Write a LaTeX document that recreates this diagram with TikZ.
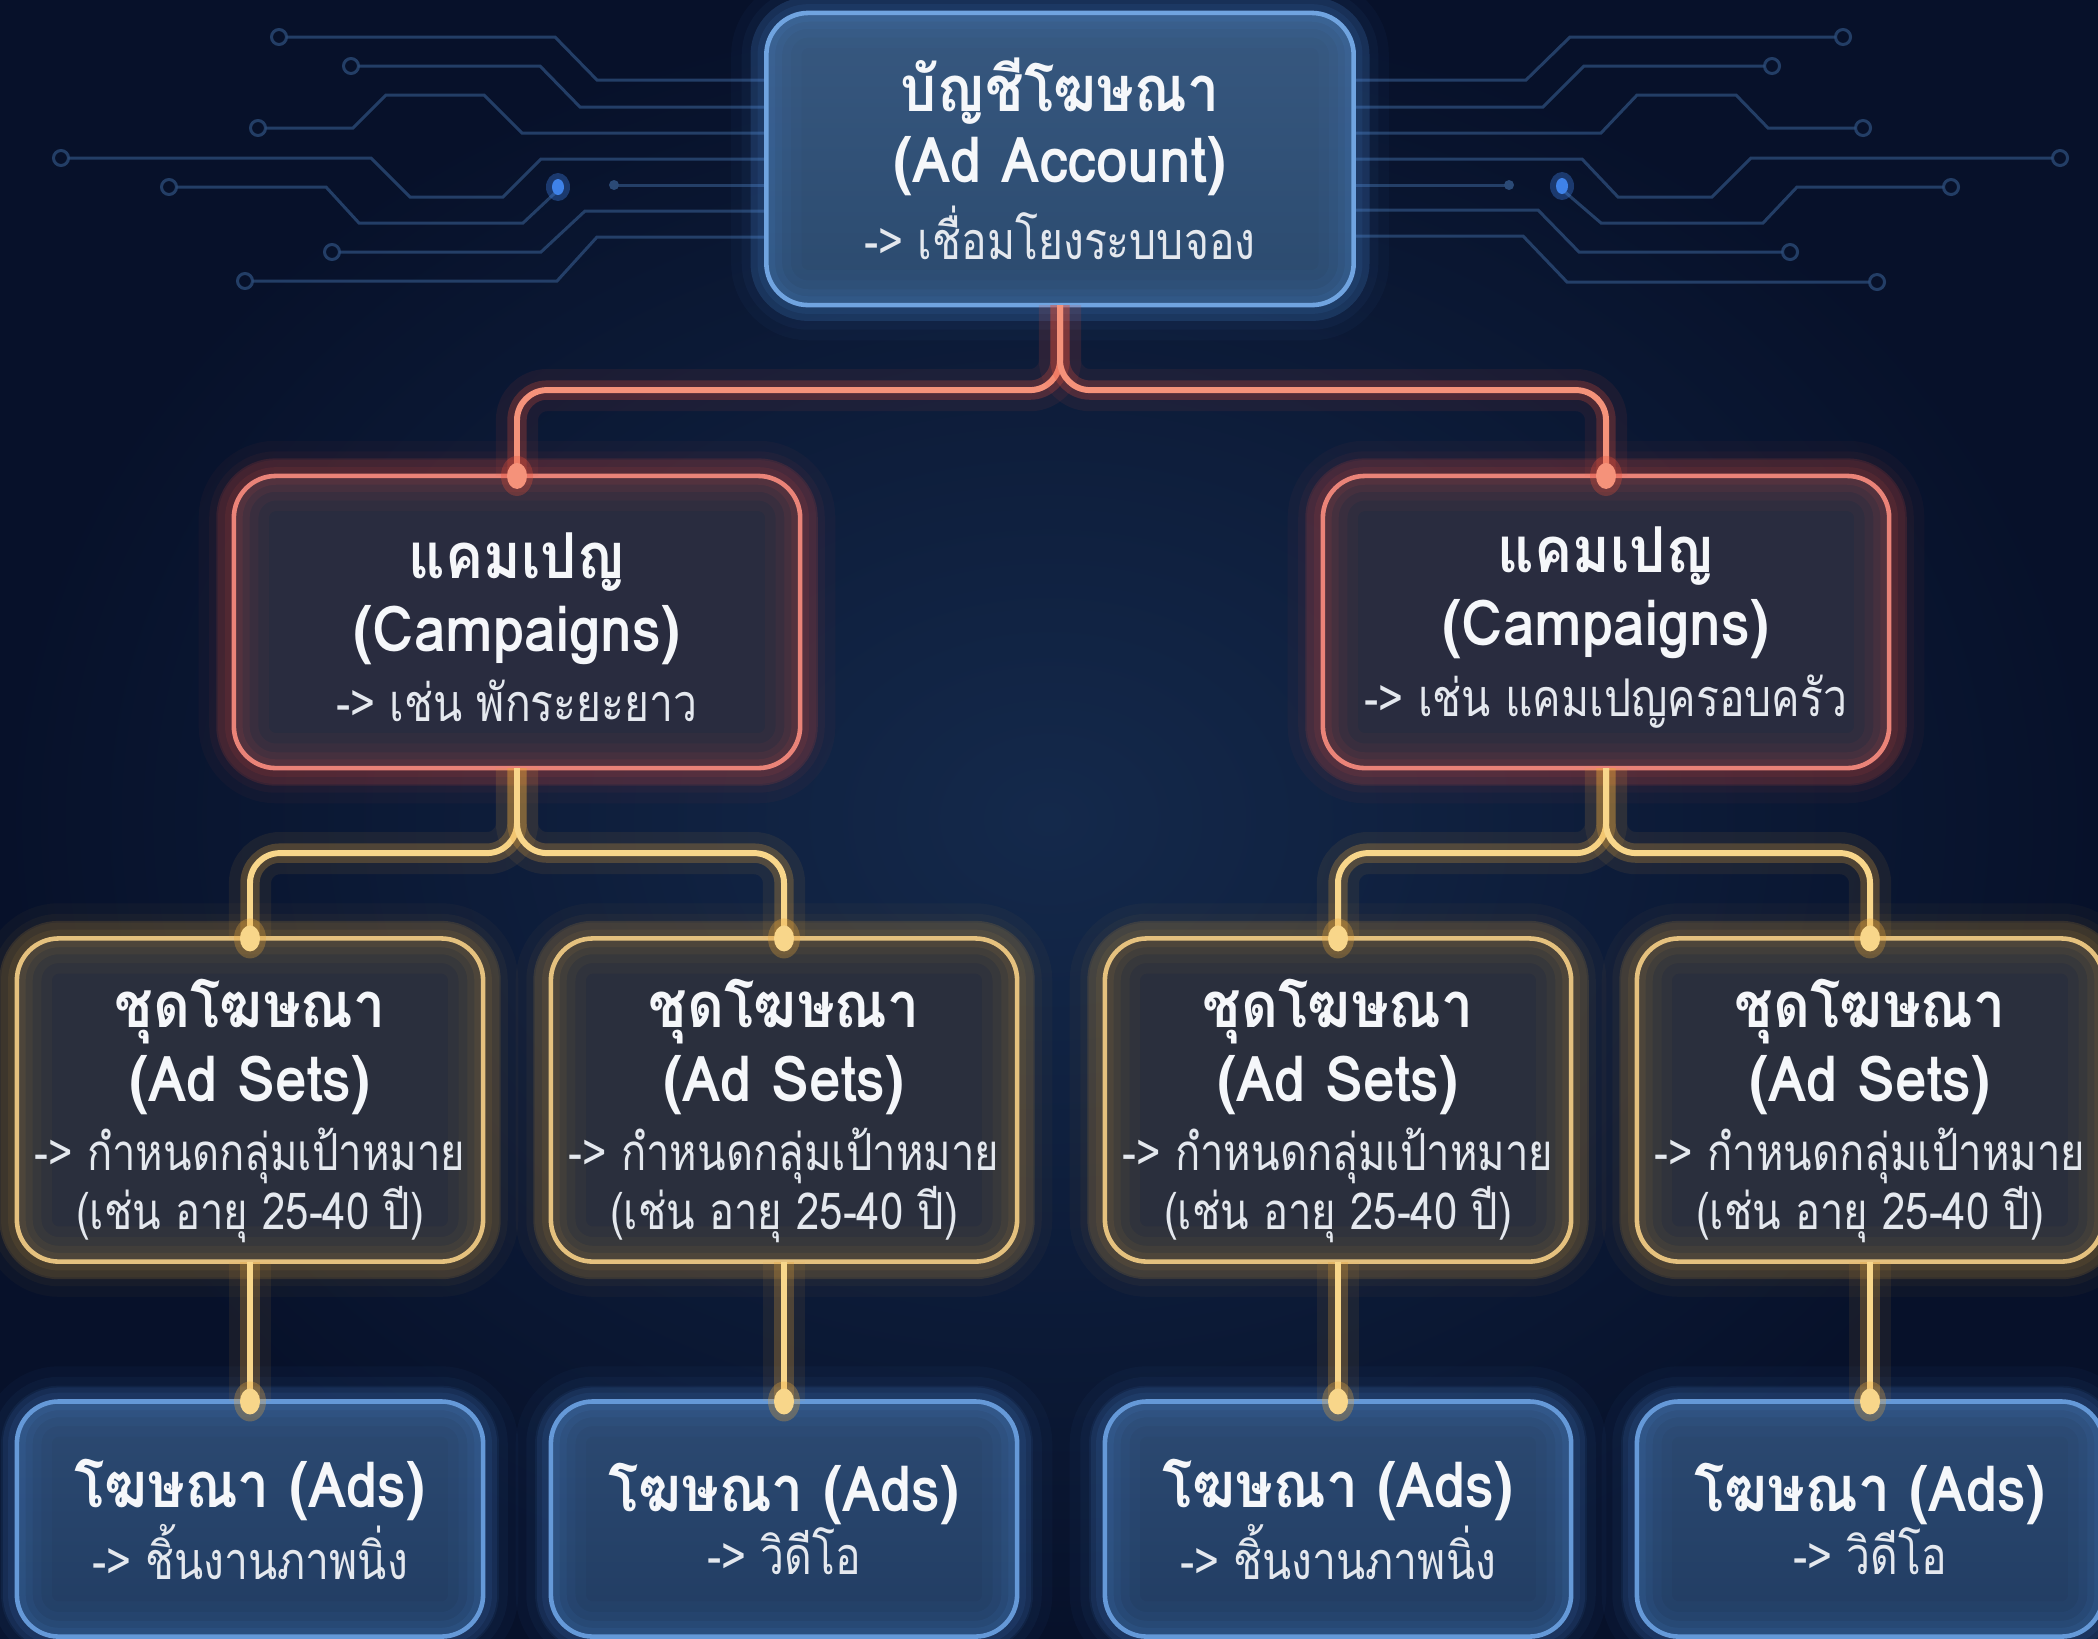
\documentclass[tikz,border=0pt]{standalone}
\usepackage{fontspec}
\setmainfont{Loma}[Script=Thai]
\newfontfamily\condA{Loma}[Script=Thai,FakeStretch=0.9]
\newfontfamily\condB{Loma}[Script=Thai,FakeStretch=0.82]
\usetikzlibrary{shapes.geometric}

\definecolor{bgdark}{HTML}{07112A}
\definecolor{bgmid}{HTML}{14294B}
\definecolor{tracec}{HTML}{2B4A76}
\definecolor{bluedot}{HTML}{3F82E8}
\definecolor{acfilltop}{HTML}{375880}
\definecolor{acfill}{HTML}{2B4A6E}
\definecolor{acborder}{HTML}{7CADE4}
\definecolor{acglow}{HTML}{4F8FE0}
\definecolor{cpfill}{HTML}{292C3F}
\definecolor{cpborder}{HTML}{EE958A}
\definecolor{cpglow}{HTML}{E4513E}
\definecolor{asfill}{HTML}{2A2F3D}
\definecolor{asborder}{HTML}{EFD094}
\definecolor{asglow}{HTML}{C8963A}
\definecolor{adfilltop}{HTML}{2C4A72}
\definecolor{adfill}{HTML}{213C62}
\definecolor{adborder}{HTML}{6E9ED8}
\definecolor{coral}{HTML}{F5927A}
\definecolor{coralglow}{HTML}{E5503A}
\definecolor{goldc}{HTML}{F8D68A}
\definecolor{goldglow}{HTML}{E8A63A}
\definecolor{txt}{HTML}{F5F7FA}
\definecolor{subtxt}{HTML}{E4E8EE}

\newcommand\boxtitle{\condA\fontsize{18}{20.5}\selectfont\bfseries}
\newcommand\boxsub{\condB\fontsize{14.8}{20.5}\selectfont\mdseries\color{subtxt}}
\newcommand\assub{\condB\fontsize{14.5}{20.5}\selectfont\mdseries\color{subtxt}}

\tikzset{
  box/.style={rectangle, rounded corners=0.42cm, inner sep=0pt, outer sep=0pt,
    align=center, text=txt, line width=1.3pt},
  softglow/.style={
    postaction={draw=#1, line width=20pt, draw opacity=0.04},
    postaction={draw=#1, line width=14pt, draw opacity=0.05},
    postaction={draw=#1, line width=9pt, draw opacity=0.07},
    postaction={draw=#1, line width=5pt, draw opacity=0.09}},
  accbox/.style={box, draw=acborder, top color=acfilltop, bottom color=acfill,
    minimum width=5.87cm, minimum height=2.92cm,
    preaction={draw=acglow, line width=9pt, draw opacity=0.12},
    softglow=acglow},
  cpbox/.style={box, draw=cpborder, fill=cpfill,
    minimum width=5.66cm, minimum height=2.92cm,
    preaction={draw=cpglow, line width=10pt, draw opacity=0.14},
    softglow=cpglow},
  asbox/.style={box, draw=asborder, fill=asfill,
    minimum width=4.66cm, minimum height=3.23cm,
    preaction={draw=goldglow, line width=10pt, draw opacity=0.14},
    softglow=asglow},
  adbox/.style={box, draw=adborder, top color=adfilltop, bottom color=adfill,
    minimum width=4.66cm, minimum height=2.35cm,
    preaction={draw=acglow, line width=8pt, draw opacity=0.10},
    softglow=acglow},
  trace/.style={draw=tracec, line width=0.85pt, draw opacity=0.8},
  tracedot/.style={draw=tracec, line width=0.85pt, draw opacity=0.8},
  coralconn/.style={draw=coral, line width=1.7pt, rounded corners=0.3cm,
    preaction={draw=coralglow, line width=12pt, draw opacity=0.08},
    preaction={draw=coralglow, line width=5.5pt, draw opacity=0.25}},
  goldconn/.style={draw=goldc, line width=1.7pt, rounded corners=0.3cm,
    preaction={draw=goldglow, line width=12pt, draw opacity=0.08},
    preaction={draw=goldglow, line width=5.5pt, draw opacity=0.25}},
  coraldot/.style={fill=coral},
  golddot/.style={fill=goldc},
}

\begin{document}
\begin{tikzpicture}[x=0.01cm, y=-0.01cm]
% background
\shade[inner color=bgmid, outer color=bgdark] (0,0) rectangle (2098,1638);
\useasboundingbox (0,0) rectangle (2098,1638);

% circuit traces, left
\draw[trace] (286,37)--(555,37)--(597,80)--(780,80);
\draw[tracedot] (279,37) circle (0.075cm);
\draw[trace] (358,66)--(540,66)--(580,107)--(780,107);
\draw[tracedot] (351,66) circle (0.075cm);
\draw[trace] (265,128)--(353,128)--(386,95)--(484,95)--(522,133)--(780,133);
\draw[tracedot] (258,128) circle (0.075cm);
\draw[trace] (68,158)--(371,158)--(410,197)--(503,197)--(541,159)--(780,159);
\draw[tracedot] (61,158) circle (0.075cm);
\draw[trace] (176,187)--(326,187)--(359,223)--(523,223)--(555,193);
\draw[tracedot] (169,187) circle (0.075cm);
\fill[bluedot, opacity=0.35] (558,187) ellipse (0.12cm and 0.14cm);
\fill[bluedot] (558,187) ellipse (0.06cm and 0.08cm);
\draw[trace] (614,185)--(780,185);
\fill[tracec] (614,185) circle (0.05cm);
\draw[trace] (339,252)--(541,252)--(585,211)--(780,211);
\draw[tracedot] (332,252) circle (0.075cm);
\draw[trace] (252,281)--(557,281)--(597,237)--(780,237);
\draw[tracedot] (245,281) circle (0.075cm);
% circuit traces, right
\draw[trace] (1340,80)--(1526,80)--(1570,37)--(1836,37);
\draw[tracedot] (1843,37) circle (0.075cm);
\draw[trace] (1340,107)--(1543,107)--(1584,66)--(1765,66);
\draw[tracedot] (1772,66) circle (0.075cm);
\draw[trace] (1340,133)--(1601,133)--(1637,95)--(1736,95)--(1768,128)--(1856,128);
\draw[tracedot] (1863,128) circle (0.075cm);
\draw[trace] (1340,159)--(1582,159)--(1618,197)--(1712,197)--(1751,158)--(2053,158);
\draw[tracedot] (2060,158) circle (0.075cm);
\draw[trace] (1565,192)--(1601,223)--(1763,223)--(1797,187)--(1944,187);
\draw[tracedot] (1951,187) circle (0.075cm);
\fill[bluedot, opacity=0.35] (1562,186) ellipse (0.12cm and 0.14cm);
\fill[bluedot] (1562,186) ellipse (0.06cm and 0.08cm);
\draw[trace] (1340,185)--(1509,185);
\fill[tracec] (1509,185) circle (0.05cm);
\draw[trace] (1340,210)--(1538,210)--(1579,252)--(1783,252);
\draw[tracedot] (1790,252) circle (0.075cm);
\draw[trace] (1340,236)--(1523,236)--(1567,282)--(1870,282);
\draw[tracedot] (1877,282) circle (0.075cm);

% boxes
\node[accbox] (acc) at (1060,159)
  {\boxtitle บัญชีโฆษณา\\[2.3pt]\boxtitle (Ad Account)\\[2pt]\boxsub -> เชื่อมโยงระบบจอง};
\node[cpbox] (cpL) at (517,622)
  {\boxtitle\rule{0pt}{16pt}แคมเปญ\\[3pt]\boxtitle (Campaigns)\\[3.5pt]\boxsub -> เช่น พักระยะยาว};
\node[cpbox] (cpR) at (1606,622)
  {\boxtitle\rule{0pt}{16pt}แคมเปญ\\[3pt]\boxtitle (Campaigns)\\[3.5pt]\boxsub -> เช่น แคมเปญครอบครัว};

\node[asbox] (as1) at (250,1100)
  {\boxtitle\rule{0pt}{20pt}ชุดโฆษณา\\[2pt]\boxtitle (Ad Sets)\\[3pt]\assub -> กำหนดกลุ่มเป้าหมาย\\[-0.5pt]\assub (เช่น อายุ 25-40 ปี)};
\node[asbox] (as2) at (784,1100)
  {\boxtitle\rule{0pt}{20pt}ชุดโฆษณา\\[2pt]\boxtitle (Ad Sets)\\[3pt]\assub -> กำหนดกลุ่มเป้าหมาย\\[-0.5pt]\assub (เช่น อายุ 25-40 ปี)};
\node[asbox] (as3) at (1338,1100)
  {\boxtitle\rule{0pt}{20pt}ชุดโฆษณา\\[2pt]\boxtitle (Ad Sets)\\[3pt]\assub -> กำหนดกลุ่มเป้าหมาย\\[-0.5pt]\assub (เช่น อายุ 25-40 ปี)};
\node[asbox] (as4) at (1870,1100)
  {\boxtitle\rule{0pt}{20pt}ชุดโฆษณา\\[2pt]\boxtitle (Ad Sets)\\[3pt]\assub -> กำหนดกลุ่มเป้าหมาย\\[-0.5pt]\assub (เช่น อายุ 25-40 ปี)};

\node[adbox] (ad1) at (250,1519)
  {\boxtitle โฆษณา (Ads)\\\boxsub -> ชิ้นงานภาพนิ่ง};
\node[adbox] (ad2) at (784,1519)
  {\boxtitle โฆษณา (Ads)\\\boxsub -> วิดีโอ};
\node[adbox] (ad3) at (1338,1519)
  {\boxtitle โฆษณา (Ads)\\\boxsub -> ชิ้นงานภาพนิ่ง};
\node[adbox] (ad4) at (1870,1519)
  {\boxtitle โฆษณา (Ads)\\\boxsub -> วิดีโอ};

% connectors
\path (acc.south) ++(0,85) coordinate (sA);
\draw[coralconn] (acc.south) -- (sA) -| (cpL.north);
\draw[coralconn] (acc.south) -- (sA) -| (cpR.north);
\path (cpL.south) ++(0,85) coordinate (sL);
\draw[goldconn] (cpL.south) -- (sL) -| (as1.north);
\draw[goldconn] (cpL.south) -- (sL) -| (as2.north);
\path (cpR.south) ++(0,85) coordinate (sR);
\draw[goldconn] (cpR.south) -- (sR) -| (as3.north);
\draw[goldconn] (cpR.south) -- (sR) -| (as4.north);
\draw[goldconn] (as1.south) -- (ad1.north);
\draw[goldconn] (as2.south) -- (ad2.north);
\draw[goldconn] (as3.south) -- (ad3.north);
\draw[goldconn] (as4.south) -- (ad4.north);

% junction dots
\foreach \n in {cpL,cpR}{
  \fill[coralglow, opacity=0.3] (\n.north) ellipse (0.16cm and 0.2cm);
  \fill[coraldot] (\n.north) ellipse (0.1cm and 0.13cm);
}
\foreach \n in {as1,as2,as3,as4,ad1,ad2,ad3,ad4}{
  \fill[goldglow, opacity=0.3] (\n.north) ellipse (0.16cm and 0.2cm);
  \fill[golddot] (\n.north) ellipse (0.1cm and 0.13cm);
}
\end{tikzpicture}
\end{document}
